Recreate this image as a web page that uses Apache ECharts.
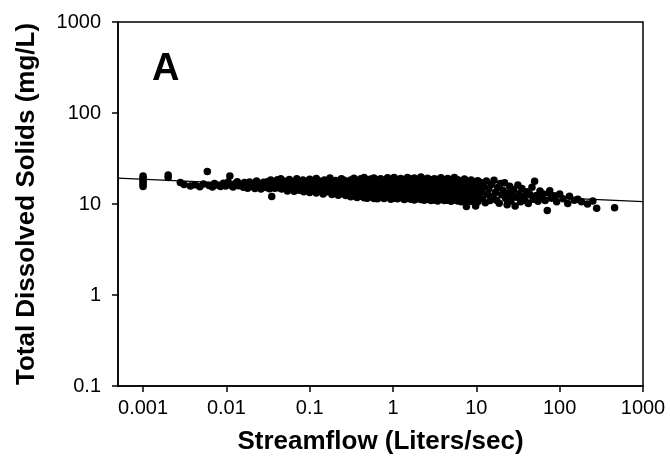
<!DOCTYPE html>
<html><head><meta charset="utf-8">
<script src="https://cdn.jsdelivr.net/npm/echarts@6/dist/echarts.min.js"></script>
<style>html,body{margin:0;padding:0;background:#fff}#c{width:670px;height:460px}</style>
</head><body><div id="c"></div>
<script>
// Tick labels
const xTicks = [0.001, 0.01, 0.1, 1, 10, 100, 1000];
const yTicks = [0.1, 1, 10, 100, 1000];
// Low streamflow observations [flow L/s, TDS mg/L]
const lowFlowPoints = [
  [0.001,15.6],[0.001,16.4],[0.001,17.3],[0.001,18.2],[0.001,19.4],[0.001,20.3],
  [0.002,19.6],[0.002,20.8],[0.0028,17.2],[0.0031,16.4],[0.0037,15.8],[0.0042,16.3],
  [0.0048,15.5],[0.0053,16.6],[0.0059,22.8],[0.0062,16.0],[0.0068,15.4],[0.0072,16.8],
  [0.0078,16.2],[0.0085,15.6],[0.0092,16.9],[0.0098,15.8],[0.011,20.3],[0.0105,17.5],
  [0.0115,16.0],[0.012,15.4],[0.0128,16.8],[0.0135,17.6],[0.014,15.9],[0.015,16.5],
  [0.016,15.3],[0.0165,17.2],[0.017,16.1],[0.018,14.9],[0.019,17.5],[0.02,15.8],
  [0.021,16.6],[0.022,14.8],[0.023,17.9],[0.024,15.6],[0.025,16.9],[0.026,14.6],
  [0.027,15.9],[0.028,17.3],[0.029,16.2]
];
const midFlowPoints = [
  [0.03,15.2],[0.031,17.6],[0.032,16.4],[0.033,14.7],[0.034,18.3],[0.035,12.1],[0.036,15.9],
  [0.037,17.0],[0.038,14.9],[0.04,16.3],[0.041,18.5],[0.042,15.1],[0.044,17.4],[0.045,19.0],
  [0.046,14.6],[0.048,16.0],[0.05,17.8],[0.052,15.3],[0.054,13.9],[0.055,16.7],[0.057,18.6],
  [0.059,14.8],[0.06,15.9],[0.062,17.3],[0.065,13.8],[0.067,16.5],[0.07,18.9],[0.072,15.0],
  [0.075,14.2],[0.077,17.0],[0.08,16.1],[0.083,18.4],[0.085,13.6],[0.088,15.5],[0.09,17.6],
  [0.093,14.5],[0.096,16.8],[0.1,18.7],[0.1,13.4],[0.104,15.7],[0.108,17.2],[0.11,14.1],
  [0.115,16.4],[0.12,19.1],[0.12,13.2],[0.125,15.1],[0.13,17.9],[0.135,14.0],[0.14,16.2],
  [0.145,12.9],[0.15,18.3],[0.155,15.3],[0.16,17.1],[0.165,13.6],[0.17,16.0],[0.175,19.3],
  [0.18,14.5],[0.185,12.7],[0.19,17.5],[0.195,15.6],[0.2,13.3],[0.205,18.1],[0.21,16.6],
  [0.215,14.2],[0.22,12.5],[0.225,17.7],[0.23,15.0],[0.24,19.0],[0.245,13.0],[0.25,16.3],
  [0.255,14.6],[0.26,18.2],[0.27,12.4],[0.275,15.8],[0.28,17.3],[0.29,13.7],[0.295,16.9],[0.3,14.4]
];
// Dense band: flow value and the TDS readings observed near it
const denseFlows = [0.31,0.34,0.37,0.41,0.45,0.49,0.54,0.59,0.65,0.71,0.78,0.86,0.94,1.03,1.13,1.24,1.36,1.49,1.64,1.8,1.97,2.16,2.37,2.6,2.85,3.13,3.43,3.76,4.13,4.53,4.97,5.45,5.98,6.56,7.2,7.9,8.67,9.5,10.4];
const denseTds = [
  [18.4,16.7,15.3,14.0,12.9,12.0],[19.2,17.3,15.8,14.5,13.3,12.3],[18.0,16.4,15.0,13.7,12.6,11.8],
  [18.9,17.6,16.1,14.7,13.5,12.2],[19.5,17.0,15.6,14.2,12.8,11.7],[18.3,16.8,15.2,13.9,12.5,11.6],
  [18.8,17.4,15.9,14.4,13.1,12.0],[19.3,17.1,15.5,14.1,12.7,11.5],[18.5,16.6,15.1,13.8,12.4,11.4],
  [19.0,17.5,16.0,14.6,13.2,11.9],[18.2,16.9,15.4,14.0,12.6,11.5],[19.4,17.7,16.2,14.8,13.4,12.1],
  [18.7,17.0,15.5,14.1,12.8,11.3],[19.6,17.8,16.3,14.9,13.0,11.6],[18.6,17.2,15.7,14.3,12.9,11.4],
  [19.1,17.6,15.9,14.5,13.1,11.8],[18.4,16.9,15.3,13.9,12.4,11.2],[19.5,17.8,16.1,14.6,13.2,11.5],
  [18.8,17.1,15.6,14.2,12.7,11.3],[19.3,17.5,16.0,14.4,12.9,11.1],[18.5,17.0,15.4,13.8,12.5,11.4],
  [19.8,17.7,16.2,14.7,13.0,11.2],[18.7,17.2,15.7,14.0,12.6,11.0],[19.2,17.4,15.8,14.3,12.8,11.3],
  [18.3,16.8,15.2,13.7,12.3,10.9],[19.0,17.3,15.9,14.4,12.7,11.1],[18.6,16.9,15.3,13.9,12.4,10.8],
  [19.4,17.6,16.0,14.5,12.9,11.2],[18.4,16.7,15.1,13.6,12.2,10.9],[19.1,17.4,15.8,14.2,12.6,11.0],
  [18.2,16.6,15.0,13.5,12.1,10.7],[19.6,17.2,15.6,14.0,12.5,11.1],[18.5,16.8,15.2,13.7,12.3,10.8],
  [17.9,16.4,15.0,13.4,12.0,10.6],[18.8,17.0,15.4,13.9,12.4,10.9],[17.6,16.2,14.8,13.3,11.9,10.5],
  [18.3,16.6,15.1,13.6,12.2,10.7],[17.4,16.0,14.6,13.2,11.8,10.4],[18.0,16.3,14.9,13.4,12.0,10.6]
];
const highFlowPoints = [
  [7.6,9.4],[9.8,9.5],[11.2,17.2],[11.5,13.8],[11.8,11.4],[12.3,15.6],[12.8,10.3],[13.2,17.9],
  [13.6,12.8],[14.1,14.7],[14.6,10.9],[15.2,16.4],[15.8,12.1],[16.3,18.2],[16.9,13.5],[17.5,11.0],
  [18.1,15.2],[18.8,10.2],[19.5,16.8],[20.2,12.6],[21.0,14.1],[21.8,17.1],[22.5,11.5],[23.4,9.8],
  [24.2,13.2],[25.1,15.7],[26.0,10.8],[27.1,12.3],[28.0,14.4],[29.2,9.5],[30.3,11.9],[31.5,16.2],
  [32.6,13.0],[34.0,10.6],[35.2,14.8],[36.8,12.0],[38.4,11.0],[40.0,13.6],[42.0,10.1],[44.0,12.7],
  [46.5,15.3],[48.0,11.3],[50.0,17.8],[52.5,12.4],[55.0,10.7],[58.0,13.9],[60.0,11.8],[63.0,12.9],
  [67.0,10.9],[71.0,8.5],[74.0,13.2],[76.0,14.0],[80.0,11.6],[86.0,12.3],[92.0,10.6],[100.0,12.9],
  [110.0,11.4],[125.0,10.1],[131.0,12.2],[150.0,11.0],[165.0,11.3],[183.0,10.6],[216.0,10.0],
  [250.0,10.8],[278.0,9.0],[456.0,9.1]
];
// Regression line end points
const trendFlow = [0.0005, 1000];
const trendTds = [19.2, 10.6];

const densePoints = [];
denseFlows.forEach((f, i) => denseTds[i].forEach(v => densePoints.push([f, v])));
const allPoints = lowFlowPoints.concat(midFlowPoints, densePoints, highFlowPoints);

const chart = echarts.init(document.getElementById('c'), null, {renderer: 'canvas'});
const font = '"Liberation Sans", Arial, sans-serif';
chart.setOption({
  animation: false,
  backgroundColor: '#fff',
  grid: {left: 118, right: 27, top: 22, bottom: 72, show: true, borderColor: '#000', borderWidth: 1.5, backgroundColor: 'transparent'},
  xAxis: {
    type: 'log', logBase: 10, min: 0.0005, max: 1000,
    name: 'Streamflow (Liters/sec)', nameLocation: 'middle', nameGap: 43,
    nameTextStyle: {fontFamily: font, fontWeight: 'bold', fontSize: 26, color: '#000'},
    axisLine: {lineStyle: {color: '#000', width: 1.5}},
    axisTick: {show: true, length: 6, inside: false, lineStyle: {color: '#000', width: 1.5}, customValues: xTicks},
    axisLabel: {fontFamily: font, fontSize: 20, color: '#000', margin: 12, customValues: xTicks,
      formatter: v => String(v)},
    splitLine: {show: false}
  },
  yAxis: {
    type: 'log', logBase: 10, min: 0.1, max: 1000,
    name: 'Total Dissolved Solids (mg/L)', nameLocation: 'middle', nameGap: 78,
    nameTextStyle: {fontFamily: font, fontWeight: 'bold', fontSize: 26, color: '#000'},
    axisLine: {lineStyle: {color: '#000', width: 1.5}},
    axisTick: {show: true, length: 6, inside: false, lineStyle: {color: '#000', width: 1.5}, customValues: yTicks},
    axisLabel: {fontFamily: font, fontSize: 20, color: '#000', margin: 17, customValues: yTicks,
      formatter: v => String(v)},
    splitLine: {show: false}
  },
  graphic: [{
    type: 'text', left: 152, top: 51,
    style: {text: 'A', font: 'bold 38px ' + font, fill: '#000'}
  }],
  series: [
    {type: 'scatter', data: allPoints, symbolSize: 7.5, itemStyle: {color: '#000', opacity: 1}, z: 3},
    {type: 'line', data: trendFlow.map((f, i) => [f, trendTds[i]]), symbol: 'none',
      lineStyle: {color: '#000', width: 1.3}, z: 4}
  ]
});
</script>
</body></html>
